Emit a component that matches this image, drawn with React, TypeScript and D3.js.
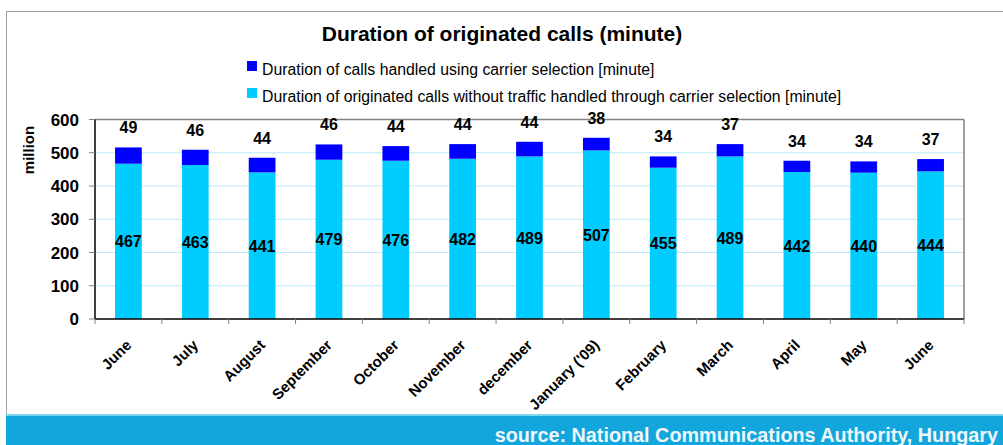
import React from 'react';
import * as d3 from 'd3';

const months = ['June', 'July', 'August', 'September', 'October', 'November', 'december', "January ('09)", 'February', 'March', 'April', 'May', 'June'];
const withoutCarrier = [467, 463, 441, 479, 476, 482, 489, 507, 455, 489, 442, 440, 444];
const carrierSel = [49, 46, 44, 46, 44, 44, 44, 38, 34, 37, 34, 34, 37];
const yTicks = [0, 100, 200, 300, 400, 500, 600];

const W = 1003;
const H = 445;
const FONT = 'Liberation Sans, Arial, sans-serif';

export default function App() {
  const left = 95, right = 964, top = 119.5, bottom = 319;

  const x = d3.scaleBand<number>()
    .domain(months.map((_, i) => i))
    .range([left, right])
    .paddingInner(0.6)
    .paddingOuter(0.3);
  const band = d3.scaleBand<number>().domain(months.map((_, i) => i)).range([left, right]);
  const y = d3.scaleLinear().domain([0, 600]).range([bottom, top]);

  return (
    <svg width={W} height={H} style={{ position: 'absolute', left: 0, top: 0, background: '#fff' }} fontFamily={FONT}>
      {/* outer frame */}
      <line x1={6} x2={W} y1={11.5} y2={11.5} stroke="#a0a0a0" />
      <line x1={6.5} x2={6.5} y1={11} y2={414} stroke="#a0a0a0" />

      <text x={502} y={41} textAnchor="middle" fontSize={21} fontWeight="bold">Duration of originated calls (minute)</text>

      {/* legend */}
      <rect x={247} y={61} width={10} height={10} fill="#0000ff" />
      <text x={262} y={75} fontSize={15.8}>Duration of calls handled using carrier selection [minute]</text>
      <rect x={247} y={88} width={10} height={10} fill="#00ccff" />
      <text x={262} y={102} fontSize={15.8}>Duration of originated calls without traffic handled through carrier selection [minute]</text>

      {/* gridlines */}
      {yTicks.filter(t => t > 0 && t < 600).map(t => (
        <line key={t} x1={left} x2={right} y1={y(t)} y2={y(t)} stroke="#b8ecf8" strokeWidth={1} />
      ))}
      {/* plot border */}
      <line x1={left} x2={right} y1={top} y2={top} stroke="#808080" strokeWidth={1.5} />
      <line x1={right} x2={right} y1={top} y2={bottom} stroke="#808080" strokeWidth={1.5} />

      {/* bars */}
      {months.map((m, i) => {
        const bx = x(i)!;
        const bw = x.bandwidth();
        const v0 = withoutCarrier[i];
        const v1 = carrierSel[i];
        return (
          <g key={i}>
            <rect x={bx} y={y(v0)} width={bw} height={y(0) - y(v0)} fill="#00ccff" />
            <rect x={bx} y={y(v0 + v1)} width={bw} height={y(v0) - y(v0 + v1)} fill="#0000ff" />
            <text x={bx + bw / 2} y={y(v0 / 2) + 6} textAnchor="middle" fontSize={16} fontWeight="bold">{v0}</text>
            <text x={bx + bw / 2} y={y(v0 + v1) - 14} textAnchor="middle" fontSize={16} fontWeight="bold">{v1}</text>
          </g>
        );
      })}

      {/* y axis */}
      <line x1={left} x2={left} y1={top} y2={bottom} stroke="#000" strokeWidth={1.5} />
      {yTicks.map(t => (
        <g key={t}>
          <line x1={left - 6} x2={left} y1={y(t)} y2={y(t)} stroke="#808080" />
          <text x={left - 16} y={y(t) + 6} textAnchor="end" fontSize={17} fontWeight="bold">{t}</text>
        </g>
      ))}
      <text transform={`translate(34,150) rotate(-90)`} textAnchor="middle" fontSize={15} fontWeight="bold">million</text>

      {/* x axis */}
      <line x1={left} x2={right} y1={bottom} y2={bottom} stroke="#000" strokeWidth={1.5} />
      {months.map((_, i) => (
        <line key={i} x1={band(i)!} x2={band(i)!} y1={bottom} y2={bottom + 5} stroke="#808080" />
      ))}
      <line x1={right} x2={right} y1={bottom} y2={bottom + 5} stroke="#808080" />
      {months.map((m, i) => {
        const cx = band(i)! + band.bandwidth() / 2;
        return (
          <text key={i} transform={`translate(${cx + 4},${bottom + 27}) rotate(-45)`} textAnchor="end" fontSize={15} fontWeight="bold">{m}</text>
        );
      })}

      {/* source bar */}
      <rect x={6} y={414} width={W - 6} height={H - 414} fill="#12a6dc" />
      <rect x={6} y={414} width={W - 6} height={2} fill="#7fd4f0" />
      <text x={998} y={442} textAnchor="end" fontSize={19.8} fontWeight="bold" fill="#eef8fc">source: National Communications Authority, Hungary</text>
    </svg>
  );
}
